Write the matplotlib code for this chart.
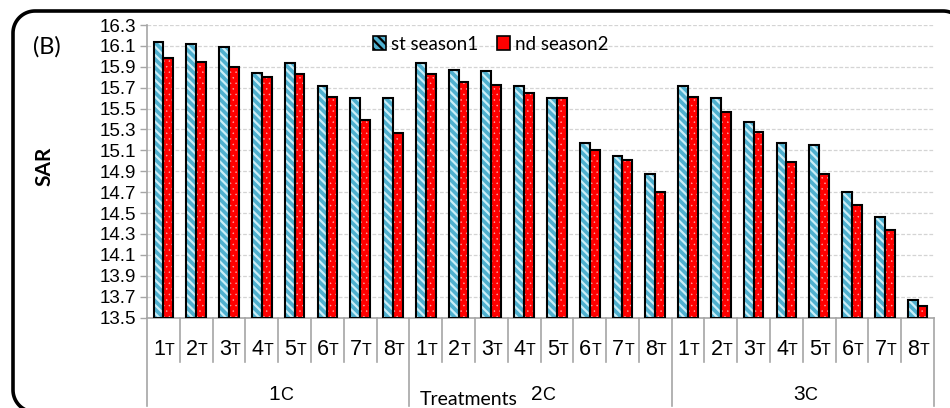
import matplotlib.pyplot as plt
from matplotlib.lines import Line2D
from matplotlib.patches import Patch
import numpy as np

# data
tick_nums = ["1", "2", "3", "4", "5", "6", "7", "8"]
group_nums = ["1", "2", "3"]
season1 = [16.14, 16.12, 16.09, 15.84, 15.94, 15.72, 15.60, 15.60,
           15.94, 15.87, 15.86, 15.72, 15.60, 15.17, 15.05, 14.87,
           15.72, 15.60, 15.37, 15.17, 15.15, 14.70, 14.46, 13.67]
season2 = [15.98, 15.95, 15.90, 15.80, 15.83, 15.61, 15.39, 15.27,
           15.83, 15.75, 15.73, 15.65, 15.60, 15.10, 15.01, 14.70,
           15.61, 15.47, 15.28, 14.99, 14.87, 14.58, 14.34, 13.61]
legend_labels = ["st season1", "nd season2"]
yticks = np.round(np.arange(13.5, 16.31, 0.2), 1)

BLUE = "#4fb0cf"
BLUE_STRIPE = "#c9eef8"
RED = "#ff0000"
GRAY = "#a6a6a6"

arial = "Liberation Sans"
calibri = "Lato"

W, H = 950, 408
fig = plt.figure(figsize=(W / 100, H / 100), dpi=100)
ax = fig.add_axes([147 / W, (H - 317.5) / H, (934 - 147) / W, 292.5 / H])

n = len(season1)
x = np.arange(n) + 0.5
w = 0.30
base = 13.5

# filled bars with hatching, then black outlines on top
plt.rcParams['hatch.linewidth'] = 1.6
ax.bar(x - w / 2, np.array(season1) - base, w, bottom=base, color=BLUE,
       edgecolor=BLUE_STRIPE, hatch="\\\\\\\\", linewidth=0, zorder=3)
plt.rcParams['hatch.linewidth'] = 0.3
ax.bar(x + w / 2, np.array(season2) - base, w, bottom=base, color=RED,
       edgecolor="#ffb0b0", hatch="...", linewidth=0, zorder=3)
plt.rcParams['hatch.linewidth'] = 1.6
ax.bar(x - w / 2, np.array(season1) - base, w, bottom=base, facecolor="none",
       edgecolor="black", linewidth=1.5, zorder=4)
ax.bar(x + w / 2, np.array(season2) - base, w, bottom=base, facecolor="none",
       edgecolor="black", linewidth=1.5, zorder=4)

ax.set_xlim(0, n)
ax.set_ylim(13.5, 16.3)
ax.set_yticks(yticks)
ax.set_yticklabels([f"{t:.1f}" for t in yticks], fontsize=13.5, family=arial)
ax.tick_params(axis="y", length=5, color=GRAY, width=1, pad=3)
ax.set_xticks([])
for t in yticks[1:]:
    ax.axhline(t, color="#d4d4d4", lw=0.9, ls=(0, (3, 1.5)), zorder=1)

for s in ["top", "right"]:
    ax.spines[s].set_visible(False)
ax.spines["left"].set_color(GRAY)
ax.spines["bottom"].set_color(GRAY)
ax.spines["left"].set_linewidth(1.2)
ax.spines["bottom"].set_linewidth(1.2)

# hierarchical category axis
trans = ax.get_xaxis_transform()
for i in range(n + 1):
    depth = -0.301 if i % 8 == 0 else -0.152
    ax.plot([i, i], [0, depth], color=GRAY, lw=1.2, transform=trans,
            clip_on=False)

def two_size_label(xc, yc, num, letter, big, small):
    ax.annotate(num, (xc, yc), xycoords=trans, xytext=(1.2, 0),
                textcoords="offset points", ha="right", va="baseline",
                fontsize=big, family=arial, annotation_clip=False)
    ax.annotate(letter, (xc, yc), xycoords=trans, xytext=(1.2, 0),
                textcoords="offset points", ha="left", va="baseline",
                fontsize=small, family=arial, annotation_clip=False)

for i in range(n):
    two_size_label(x[i], -0.128, tick_nums[i % 8], "T", 15.5, 11.5)
for g, num in enumerate(group_nums):
    two_size_label(8 * g + 4, -0.283, num, "C", 15, 13)

ax.text(9.8, -0.25, "Treatments", transform=trans, ha="center", va="top",
        fontsize=14, family=calibri)

# legend
handles = [Patch(facecolor=BLUE, edgecolor="black", hatch="\\\\\\\\", lw=1.2),
           Patch(facecolor=RED, edgecolor="black", lw=1.2)]
ax.legend(handles, legend_labels, loc="center", bbox_to_anchor=(0.437, 0.935),
          ncol=2, frameon=False, handlelength=0.7, handleheight=0.7,
          handletextpad=0.25, columnspacing=1.0,
          prop={"family": calibri, "size": 13.5})

fig.text(44.5 / W, 1 - 166 / H, "SAR", rotation=90, ha="center", va="center",
         fontsize=15, fontweight="bold", family=calibri)
fig.text(46.5 / W, 1 - 46.5 / H, "(B)", ha="center", va="center",
         fontsize=17, family=calibri)

# rounded frame: open outline, its right and bottom sides run off the picture
r = 22
left, top, right, bottom = 13, H - 11, 965, -4
def arc(cx, cy, a0, a1):
    a = np.radians(np.linspace(a0, a1, 20))
    return cx + r * np.cos(a), cy + r * np.sin(a)
xs, ys = [], []
for seg in [arc(right - r, top - r, 0, 90), arc(left + r, top - r, 90, 180),
            arc(left + r, bottom + r, 180, 270)]:
    xs.extend(seg[0])
    ys.extend(seg[1])
fig.add_artist(Line2D(np.array(xs) / W, np.array(ys) / H, color="black",
                      lw=2.6, transform=fig.transFigure))

fig.savefig("out.png", dpi=100)
